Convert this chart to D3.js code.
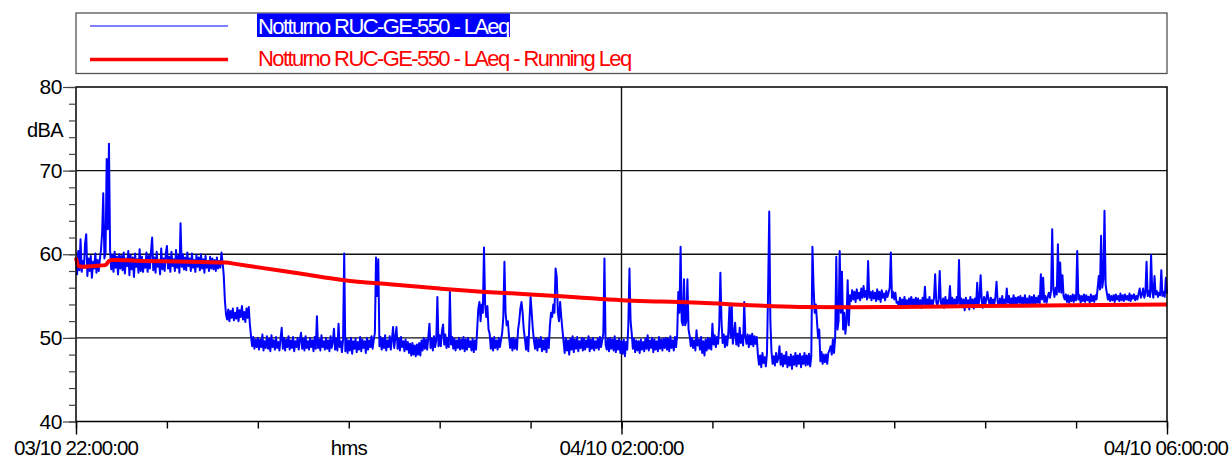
<!DOCTYPE html>
<html>
<head>
<meta charset="utf-8">
<script src="https://cdn.jsdelivr.net/npm/d3@7"></script>
<style>
  html, body { margin: 0; padding: 0; background: #fff; }
  svg { display: block; font-family: "Liberation Sans", Arial, sans-serif; }
</style>
</head>
<body>
<svg id="chart" width="1231" height="457"></svg>
<script>
// Measurement window: 03/10 22:00:00 -> 04/10 06:00:00, LAeq logged every 30 s
const startTime = new Date(2023, 9, 3, 22, 0, 0);
const endTime = new Date(2023, 9, 4, 6, 0, 0);
const sampleSeconds = 30;

const seriesNames = ["Notturno RUC-GE-550 - LAeq", "Notturno RUC-GE-550 - LAeq - Running Leq"];

// LAeq, dBA, one value per 30 s (20 values = 10 minutes per row)
const laeq = [
  59.6,57.6,60.4,58.1,61.8,57.9,59.2,58.4,61.3,62.4,57.4,59.5,58.0,59.8,57.2,59.1,58.3,60.1,57.8,59.3,
  58.0,59.4,60.5,62.6,67.3,59.5,60.2,71.4,63.0,73.2,60.5,58.2,59.9,57.9,60.3,58.4,59.7,57.6,60.0,58.3,
  59.8,58.1,60.2,57.7,59.5,58.6,60.4,57.5,59.9,58.2,59.6,57.3,60.1,58.5,59.4,57.8,60.6,58.0,59.7,57.9,
  59.3,58.4,60.2,57.9,59.8,58.3,60.4,62.0,58.1,59.6,57.8,60.3,58.5,59.2,57.6,60.7,58.2,59.5,58.0,60.1,
  61.0,58.3,59.7,57.9,60.3,58.6,59.4,58.0,60.5,58.4,59.8,57.8,63.7,58.5,60.0,58.2,59.6,58.1,60.2,58.6,
  59.5,58.0,60.1,58.4,59.3,57.9,59.9,58.5,59.6,58.1,60.0,58.3,59.4,57.8,59.8,58.4,59.2,58.0,59.7,58.3,
  59.5,58.2,59.3,58.0,59.6,58.3,59.2,58.4,60.2,59.0,57.5,54.5,52.8,52.2,53.4,52.0,53.2,52.4,53.5,52.1,
  53.0,52.3,53.6,52.0,53.3,52.5,53.8,52.2,53.1,51.9,53.5,52.4,53.7,51.6,50.2,49.0,50.1,48.7,49.8,48.9,
  50.0,48.6,49.8,48.9,50.4,48.5,49.6,48.8,50.2,48.7,49.9,48.4,50.3,48.9,49.7,48.6,50.1,48.8,49.5,48.5,
  49.9,51.2,48.7,50.0,48.5,49.8,48.9,50.2,48.6,49.7,48.8,50.1,48.4,49.6,48.9,50.0,48.6,49.8,50.6,48.7,
  49.9,48.5,50.2,48.8,49.6,48.6,50.0,48.9,49.7,48.4,50.1,48.7,52.6,48.8,49.8,48.5,50.3,48.9,49.6,48.6,
  50.0,48.7,49.7,48.4,50.2,48.8,49.5,51.1,48.6,49.9,48.5,51.7,48.9,49.6,48.3,49.8,60.1,48.4,49.9,48.2,
  49.7,48.5,50.0,48.1,49.6,48.7,49.9,48.3,49.5,48.6,50.1,48.4,49.8,48.8,49.6,48.2,50.0,48.6,49.7,48.9,
  50.2,48.7,49.8,50.6,59.6,55.0,59.4,49.0,50.1,48.6,49.9,48.8,50.3,48.5,49.7,48.9,50.2,48.6,49.8,51.3,
  48.8,50.0,51.3,48.7,49.9,48.5,50.1,48.9,49.6,48.4,49.8,48.6,49.5,48.2,49.3,47.9,49.4,48.0,49.1,47.8,
  49.2,48.0,49.4,47.9,49.7,48.5,50.0,48.7,49.8,48.6,50.1,51.7,48.8,49.9,48.5,50.2,48.9,49.7,54.9,49.0,
  50.3,49.0,50.8,51.6,49.2,50.4,48.8,50.0,48.9,55.5,49.2,50.1,48.7,49.9,48.5,49.7,48.8,50.0,48.6,49.8,
  48.7,50.1,48.4,49.8,48.6,50.0,48.9,49.6,48.5,49.9,48.3,49.7,48.6,51.0,53.5,54.3,52.0,54.0,53.0,60.8,
  54.0,52.5,53.8,51.0,50.5,48.7,49.9,48.5,50.1,48.8,49.7,48.6,50.0,48.9,49.8,50.6,52.5,59.1,53.0,51.5,
  52.0,50.2,48.8,49.9,48.5,50.0,48.7,49.8,48.6,51.0,52.0,53.5,54.3,53.0,51.0,49.9,48.6,50.1,48.4,52.0,
  54.9,53.0,51.0,49.6,48.7,50.0,48.5,49.8,48.9,50.1,48.4,49.7,48.6,49.9,48.3,50.0,48.8,51.5,53.0,52.5,
  54.0,53.0,58.3,57.3,53.0,52.0,54.3,52.5,51.0,49.6,48.2,50.0,48.5,49.7,48.0,49.9,48.6,50.2,48.3,49.8,
  48.7,50.1,48.4,49.6,48.8,50.0,48.5,49.9,48.6,49.7,48.9,50.2,48.4,49.8,48.7,50.0,48.5,49.6,48.8,49.9,
  48.6,50.1,48.9,49.7,50.5,59.5,49.2,48.6,49.9,48.4,50.0,48.7,49.8,48.5,50.2,48.3,49.7,48.6,49.9,48.2,
  49.6,48.1,49.8,47.8,49.5,48.6,51.5,58.3,52.0,50.5,48.7,49.9,48.3,49.7,48.5,49.6,48.2,49.8,48.6,49.5,
  48.4,49.9,48.7,50.3,48.5,49.7,48.8,50.0,48.3,49.8,48.6,49.6,48.4,50.1,48.7,49.8,48.5,49.9,48.8,50.0,
  48.6,49.9,48.4,50.2,48.8,49.7,48.5,50.1,48.9,50.4,55.5,53.0,60.9,52.0,51.5,57.0,51.5,52.0,57.0,51.0,
  50.2,49.0,50.0,48.8,49.7,48.5,50.9,49.1,49.8,48.6,50.1,48.2,49.6,47.9,49.8,48.5,50.0,48.7,49.9,48.6,
  51.7,49.2,50.3,48.9,50.1,49.3,51.5,57.8,52.0,49.4,50.4,48.9,50.2,49.1,50.6,53.7,50.0,53.8,49.3,50.5,
  51.8,49.2,50.5,49.0,51.2,49.4,50.3,49.1,54.3,50.2,49.3,50.4,48.9,50.3,49.2,50.5,49.0,50.2,49.3,50.1,
  48.0,46.8,47.9,46.5,48.2,47.0,47.7,46.6,48.1,55.7,65.1,52.0,48.3,46.9,47.8,46.7,48.2,47.1,47.6,49.0,
  46.8,48.1,46.6,47.9,46.9,48.3,46.5,47.7,46.7,48.0,46.3,47.8,46.8,48.2,46.6,47.9,46.9,48.1,46.5,47.8,
  46.9,48.2,46.7,47.9,46.8,48.1,46.6,47.8,60.9,56.1,53.0,54.0,52.0,50.0,51.0,47.2,48.3,46.9,48.0,47.1,
  48.0,46.9,48.2,48.5,49.0,48.0,49.8,48.2,50.0,59.7,51.0,52.0,60.4,53.0,57.9,51.0,53.0,50.5,52.0,56.9,
  51.5,55.1,54.4,55.7,54.6,55.5,54.3,55.8,54.7,55.4,54.5,55.9,54.8,56.2,54.9,55.6,54.6,59.2,54.8,55.5,
  54.5,55.6,54.7,55.4,54.4,55.8,54.6,55.5,54.3,55.7,54.8,55.3,54.5,55.6,54.9,55.4,56.0,60.2,54.8,55.5,
  54.6,55.4,54.2,54.3,53.7,54.8,53.9,54.6,53.6,54.9,53.8,54.5,53.7,54.7,54.0,54.9,53.8,54.6,53.9,54.8,
  53.7,54.7,53.9,54.5,53.6,54.8,54.0,56.1,53.8,54.6,53.9,54.9,53.7,54.5,54.0,54.8,57.6,54.3,53.8,54.6,
  58.0,54.2,53.9,54.7,53.6,54.9,53.8,54.5,54.0,56.2,53.7,54.8,53.9,54.6,53.7,54.9,54.1,59.3,53.8,54.7,
  53.9,54.6,53.3,54.8,53.7,54.5,53.4,54.9,53.8,54.6,53.5,54.7,53.9,56.6,53.7,54.8,57.5,54.4,53.6,54.9,
  53.8,54.7,55.5,54.5,53.9,54.8,53.7,54.6,54.0,54.9,56.7,54.3,53.8,54.7,53.9,55.0,53.8,54.6,54.0,55.9,
  54.2,55.0,53.9,54.7,54.1,55.1,53.8,54.8,54.0,54.9,54.2,55.0,53.9,54.8,54.1,55.1,54.0,54.7,53.9,55.0,
  54.1,54.9,54.0,55.1,53.9,54.8,54.2,55.0,54.1,57.6,54.6,57.2,54.3,55.0,54.2,54.9,55.4,54.8,55.6,63.0,
  55.8,54.9,56.0,55.2,61.2,55.5,59.0,55.4,57.5,55.0,54.6,55.2,54.3,55.1,54.2,55.0,54.4,55.2,54.3,55.1,
  54.5,60.4,54.6,55.1,54.2,55.0,54.4,55.2,54.3,55.1,54.5,54.9,54.2,55.2,54.4,55.0,54.3,55.1,54.6,56.0,
  57.4,55.8,62.2,56.0,57.0,65.2,56.3,55.4,54.6,55.2,54.4,55.0,54.5,55.1,54.3,55.2,54.6,55.0,54.4,55.3,
  54.5,55.1,54.4,55.2,54.6,55.0,54.5,55.3,54.4,55.1,54.7,55.2,54.5,55.0,54.6,55.3,55.9,54.8,55.2,55.9,
  54.8,55.4,59.1,55.0,55.6,54.9,59.9,55.5,54.8,57.4,55.2,55.6,54.9,55.4,55.1,58.1,55.0,55.5,54.9,57.2,
  55.3
];

// Running Leq, dBA, at elapsed minutes from the start
const runMinutes = [0, 1, 3, 8, 13, 14.5, 16, 30, 50, 66, 70, 81, 98.5, 118, 138, 160, 180, 200, 220, 240, 257, 274.5, 296.5, 318.5, 340.5, 362.5, 397.7, 437.3, 480];
const runLeq     = [59.6, 58.6, 58.5, 58.6, 58.7, 59.2, 59.3, 59.2, 59.1, 59.0, 58.85, 58.4, 57.7, 56.9, 56.4, 55.9, 55.5, 55.2, 54.85, 54.5, 54.35, 54.2, 53.9, 53.7, 53.65, 53.7, 53.8, 53.9, 54.0];

// Axis ticks
const yMajorTicks = [40, 50, 60, 70, 80];
const yGridLevels = [50, 60, 70];
const yUnit = "dBA";
const xTickMinutes = [0, 40, 80, 120, 160, 200, 240, 280, 320, 360, 400, 440, 480];
const xMajorMinutes = [0, 240, 480];
const xTickLabels = { 0: "03/10 22:00:00", 120: "hms", 240: "04/10 02:00:00", 480: "04/10 06:00:00" };
const xGridMinutes = [240];

const svg = d3.select("#chart");
const width = 1231;
const plotLeft = 76, plotRight = 1167, plotTop = 87, plotBottom = 421.5;

const minuteToDate = m => new Date(startTime.getTime() + m * 60000);
const x = d3.scaleTime().domain([startTime, endTime]).range([plotLeft, plotRight]);
const y = d3.scaleLinear().domain([40, 80]).range([plotBottom, plotTop]);

// grid
const grid = svg.append("g").attr("stroke", "#111").attr("stroke-width", 1.4);
grid.selectAll("line.h").data(yGridLevels).join("line").attr("class", "h")
  .attr("x1", plotLeft).attr("x2", plotRight).attr("y1", d => y(d)).attr("y2", d => y(d));
grid.selectAll("line.v").data(xGridMinutes).join("line").attr("class", "v")
  .attr("x1", d => x(minuteToDate(d))).attr("x2", d => x(minuteToDate(d)))
  .attr("y1", plotTop).attr("y2", plotBottom);

// LAeq trace
const laeqPoints = laeq.map((v, i) => [new Date(startTime.getTime() + i * sampleSeconds * 1000), v]);
svg.append("path")
  .datum(laeqPoints)
  .attr("fill", "none").attr("stroke", "#0000ff").attr("stroke-width", 2)
  .attr("stroke-linejoin", "round")
  .attr("d", d3.line().x(d => x(d[0])).y(d => y(d[1])));

// Running Leq
const runPoints = runMinutes.map((m, i) => [minuteToDate(m), runLeq[i]]);
svg.append("path")
  .datum(runPoints)
  .attr("fill", "none").attr("stroke", "#ff0000").attr("stroke-width", 4)
  .attr("stroke-linejoin", "round")
  .attr("d", d3.line().curve(d3.curveMonotoneX).x(d => x(d[0])).y(d => y(d[1])));

// frame
svg.append("rect").attr("x", plotLeft).attr("y", plotTop)
  .attr("width", plotRight - plotLeft).attr("height", plotBottom - plotTop)
  .attr("fill", "none").attr("stroke", "#000").attr("stroke-width", 1.5);

// Y axis: minor ticks every 2 dB, major every 10 dB
const yMinor = svg.append("g").attr("transform", `translate(${plotLeft},0)`)
  .call(d3.axisLeft(y).tickValues(d3.range(40, 81, 2)).tickSize(7).tickFormat(""));
yMinor.select(".domain").remove();
yMinor.selectAll("line").attr("stroke", "#444").attr("stroke-width", 1.2);
const yMajor = svg.append("g").attr("transform", `translate(${plotLeft},0)`)
  .call(d3.axisLeft(y).tickValues(yMajorTicks).tickSize(13).tickPadding(1));
yMajor.select(".domain").remove();
yMajor.selectAll("line").attr("stroke", "#444").attr("stroke-width", 1.2);
yMajor.selectAll("text").attr("font-size", 21).attr("fill", "#000")
  .attr("font-family", "Liberation Sans, Arial, sans-serif").attr("letter-spacing", -0.4);
svg.append("text").attr("x", 63).attr("y", 137).attr("text-anchor", "end")
  .attr("font-size", 20).attr("letter-spacing", -0.6).text(yUnit);

// X axis
const xMinor = svg.append("g").attr("transform", `translate(0,${plotBottom})`)
  .call(d3.axisBottom(x).tickValues(xTickMinutes.map(minuteToDate)).tickSize(7).tickFormat(""));
xMinor.select(".domain").remove();
xMinor.selectAll("line").attr("stroke", "#000").attr("stroke-width", 1.4);
const xMajor = svg.append("g").attr("transform", `translate(0,${plotBottom})`)
  .call(d3.axisBottom(x).tickValues(xMajorMinutes.map(minuteToDate)).tickSize(13).tickFormat(""));
xMajor.select(".domain").remove();
xMajor.selectAll("line").attr("stroke", "#000").attr("stroke-width", 1.4);
// narrow condensed lettering via negative letter spacing
const xLabels = svg.append("g").selectAll("text").data(Object.keys(xTickLabels).map(Number)).join("text")
  .attr("x", d => x(minuteToDate(d)))
  .attr("y", 454.5)
  .attr("text-anchor", "middle")
  .attr("font-size", 20.5)
  .attr("letter-spacing", -0.9)
  .text(d => xTickLabels[d]);
// a label that would run past the right edge is set flush right instead
xLabels.each(function () {
  const b = this.getBBox();
  if (b.x + b.width > width - 3) {
    d3.select(this).attr("text-anchor", "end").attr("x", width - 3);
  }
});

// legend
const lg = svg.append("g");
lg.append("rect").attr("x", plotLeft).attr("y", 13).attr("width", plotRight - plotLeft).attr("height", 60.5)
  .attr("fill", "#fff").attr("stroke", "#555").attr("stroke-width", 1.3);
lg.append("line").attr("x1", 90).attr("x2", 228).attr("y1", 26).attr("y2", 26)
  .attr("stroke", "#0000ff").attr("stroke-width", 1.2);
lg.append("line").attr("x1", 90).attr("x2", 228).attr("y1", 59.5).attr("y2", 59.5)
  .attr("stroke", "#ff0000").attr("stroke-width", 3.5);
const t1 = lg.append("text").attr("x", 258).attr("y", 33.5).attr("font-size", 22)
  .attr("letter-spacing", -1.6).attr("fill", "#fff").text(seriesNames[0]);
const bb = t1.node().getBBox();
lg.insert("rect", "text").attr("x", 257).attr("y", 13.5).attr("width", bb.width + 2).attr("height", 23.5)
  .attr("fill", "#0000ff");
lg.append("text").attr("x", 258).attr("y", 65.5).attr("font-size", 22)
  .attr("letter-spacing", -1.6).attr("fill", "#ff0000").text(seriesNames[1]);
</script>
</body>
</html>
